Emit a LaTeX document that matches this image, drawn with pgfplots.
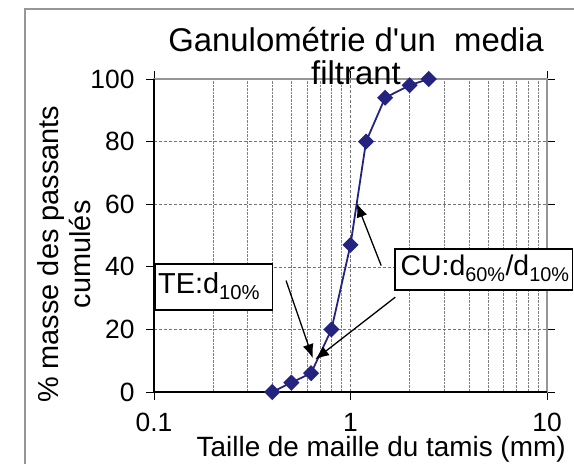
\documentclass[border=0pt]{standalone}
\usepackage{pgfplots}
\pgfplotsset{compat=1.18}
\usepackage{fontspec}
\setmainfont{Liberation Sans}
\usetikzlibrary{arrows.meta}
\definecolor{serie}{RGB}{36,36,128}
\definecolor{cadre}{RGB}{150,150,150}

\begin{document}
\begin{tikzpicture}
\begin{axis}[
    name=ax, at={(0,0)}, anchor=south west,
    scale only axis, width=393bp, height=313bp,
    xmode=log, xmin=0.1, xmax=10, ymin=0, ymax=100,
    xtick={0.1,1,10}, xticklabels={0.1,1,10},
    minor xtick={0.2,0.3,0.4,0.5,0.6,0.7,0.8,0.9,2,3,4,5,6,7,8,9},
    ytick={0,20,40,60,80,100},
    grid=both,
    major grid style={densely dashed, black!55, line width=0.5bp},
    minor grid style={densely dotted, black!50, line width=0.5bp},
    axis line style={cadre, line width=1.2bp},
    tick align=outside, major tick length=8bp, minor tick length=0pt,
    tick style={black, line width=0.8bp},
    /pgf/number format/assume math mode=true,
    ticklabel style={font=\fontsize{26.5}{30}\selectfont},
    yticklabel style={xshift=-8bp},
    xticklabel style={inner sep=1bp, yshift=-12bp},
    xlabel={Taille de maille du tamis (mm)},
    xlabel style={font=\fontsize{28}{32}\selectfont, inner sep=0pt, at={(axis description cs:0.578,-0.184)}, anchor=center},
    ylabel={\% masse des passants\\cumulés},
    ylabel style={font=\fontsize{29}{32}\selectfont, align=center, at={(axis description cs:-0.229,0.44)}, anchor=center},
    clip=false,
]
\addplot[serie, line width=1.8bp, mark=square*, mark size=4.8bp, mark options={rotate=45, fill=serie}]
    coordinates {(0.4,0) (0.5,3) (0.63,6) (0.8,20) (1.0,47) (1.2,80) (1.5,94) (2.0,98) (2.5,100)};
\draw[black, line width=1.2bp] (rel axis cs:0,1) -- (rel axis cs:0,0) -- (rel axis cs:1,0);
\node[align=center, font=\fontsize{33}{33}\selectfont] at (axis description cs:0.514,1.073)
    {Ganulométrie d\textquotesingle un\ \ media\\filtrant};
% annotations
\draw[line width=1.3bp, -{Latex[length=14bp,width=11bp]}] (rel axis cs:0.336,0.356) -- (rel axis cs:0.404,0.108);
\draw[line width=1.3bp, -{Latex[length=14bp,width=11bp]}] (rel axis cs:0.578,0.404) -- (rel axis cs:0.516,0.603);
\draw[line width=1.3bp, -{Latex[length=14bp,width=11bp]}] (rel axis cs:0.614,0.303) -- (rel axis cs:0.410,0.104);
\draw[line width=1.5bp, fill=white] (rel axis cs:0.003,0.262) rectangle (rel axis cs:0.302,0.409);
\node[anchor=west, font=\fontsize{29}{33}\selectfont, inner sep=0pt] at (rel axis cs:0.01,0.338) {TE:d\textsubscript{10\%}};
\draw[line width=1.5bp, fill=white] (rel axis cs:0.613,0.326) rectangle (rel axis cs:1.065,0.457);
\node[anchor=west, font=\fontsize{28.5}{33}\selectfont, inner sep=0pt] at (rel axis cs:0.627,0.395) {CU:d\textsubscript{60\%}/d\textsubscript{10\%}};
\end{axis}
\draw[cadre, line width=1.2bp] (-129bp,-72bp) -- (-129bp,383bp) -- (420bp,383bp);
\pgfresetboundingbox
\useasboundingbox (-154bp,-72bp) rectangle (420bp,392bp);
\end{tikzpicture}
\end{document}
